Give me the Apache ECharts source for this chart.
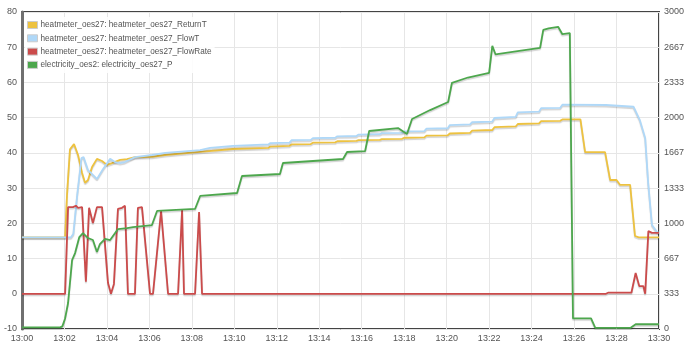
<!DOCTYPE html>
<html>
<head>
<meta charset="utf-8">
<script src="https://cdn.jsdelivr.net/npm/echarts@6/dist/echarts.min.js"></script>
<style>
  html, body { margin: 0; padding: 0; background: #fff; }
  #chart { width: 690px; height: 352px; }
</style>
</head>
<body>
<div id="chart"></div>
<script>
// time in minutes after 13:00
let seriesNames = [
    'heatmeter_oes27: heatmeter_oes27_ReturnT',
    'heatmeter_oes27: heatmeter_oes27_FlowT',
    'heatmeter_oes27: heatmeter_oes27_FlowRate',
    'electricity_oes2: electricity_oes27_P'
];
let seriesColors = ['#edc240', '#afd8f8', '#cb4b4b', '#4da74d'];

let returnT = [[0,16],[2.03,16],[2.12,28],[2.26,41],[2.45,42.5],[2.64,39.4],[2.83,34.3],[2.97,31.5],[3.11,32.3],[3.3,36],[3.53,38.3],[3.77,37.7],[4.0,36.6],[4.24,37.1],[4.62,38],[4.95,38.2],[5.32,38.8],[6.12,38.9],[6.74,39.4],[8.39,40.3],[9.94,41.1],[11.6,41.4],[11.7,41.8],[12.6,42],[12.7,42.4],[13.6,42.5],[13.7,42.9],[14.75,43],[14.85,43.3],[15.75,43.4],[15.85,43.6],[16.85,43.7],[16.95,43.9],[17.9,44],[18.0,44.3],[18.95,44.4],[19.05,44.9],[20.05,45],[20.15,45.5],[21.1,45.7],[21.2,46.3],[22.15,46.5],[22.25,47.3],[23.25,47.5],[23.35,48.2],[24.35,48.4],[24.45,49],[25.35,49.1],[25.45,49.5],[26.3,49.5],[26.52,40.2],[27.46,40.2],[27.7,32.3],[28.0,32.3],[28.17,30.9],[28.64,30.9],[28.87,16.4],[29.05,16],[30,16]];

let flowT = [[0,16],[2.3,16],[2.42,17],[2.6,28],[2.8,38.5],[2.9,38.8],[3.11,35.1],[3.53,32.6],[3.82,35.4],[4.15,38.3],[4.38,37.4],[4.62,37.1],[4.85,37.4],[5.32,38.8],[6.12,39.4],[6.74,40],[8.39,40.8],[8.85,41.4],[9.94,42],[11.6,42.4],[11.7,42.8],[12.6,42.9],[12.7,43.6],[13.6,43.7],[13.7,44.2],[14.75,44.3],[14.85,44.7],[15.75,44.8],[15.85,45.2],[16.85,45.3],[16.95,45.6],[17.9,45.7],[18.0,46.1],[18.95,46.2],[19.05,46.9],[20.05,47],[20.15,47.9],[21.1,48.1],[21.2,48.7],[22.15,48.9],[22.25,49.9],[23.25,50.2],[23.35,51.5],[24.35,51.7],[24.45,52.7],[25.35,52.8],[25.45,53.7],[27.5,53.6],[28.8,53.1],[29.1,49.3],[29.35,44.2],[29.49,31.5],[29.67,19.5],[29.91,17.5],[30,17.3]];

let flowRate = [[0,0],[2.03,0],[2.17,24.6],[2.4,24.6],[2.54,25],[2.64,24.4],[2.83,24.6],[2.87,24.4],[3.01,3.4],[3.16,24.4],[3.34,20.1],[3.53,24.6],[3.77,24.6],[3.86,24.1],[4.05,3.1],[4.19,0],[4.33,2.8],[4.52,24.1],[4.71,24.4],[4.85,25],[4.99,0],[5.32,0],[5.46,24.4],[5.65,24.6],[6.03,0],[6.17,0],[6.55,23.5],[6.88,0],[7.35,0],[7.54,23.8],[7.63,0],[8.15,0],[8.34,23.2],[8.48,0],[27.5,0],[27.6,0.3],[28.7,0.3],[28.9,5.9],[29.07,2.2],[29.26,2.2],[29.35,0],[29.5,17.8],[29.67,17.3],[30,17.3]];

let powerP = [[0,15],[1.8,15],[1.9,25],[2.03,100],[2.17,246],[2.36,653],[2.5,719],[2.7,870],[2.87,908],[3.11,861],[3.34,842],[3.53,729],[3.67,804],[3.91,852],[4.15,842],[4.52,946],[4.95,955],[5.23,965],[6.12,984],[6.36,1117],[8.15,1136],[8.39,1259],[10.13,1287],[10.36,1448],[12.15,1467],[12.29,1571],[15.12,1609],[15.31,1675],[16.16,1684],[16.35,1874],[17.71,1902],[17.99,1864],[18.13,1845],[18.37,1987],[19.22,2072],[20.07,2148],[20.25,2330],[21.0,2380],[22.0,2425],[22.15,2680],[22.3,2600],[23.5,2635],[24.4,2660],[24.55,2830],[24.8,2845],[25.25,2860],[25.45,2790],[25.8,2800],[25.95,100],[26.8,100],[27.0,10],[28.65,10],[28.9,45],[30,45]];

let xTicks = {min: 0, max: 30, step: 2};
let leftTicks = {min: -10, max: 80, step: 10};
let rightTicks = {min: 0, max: 3000, step: 3000 / 9};

let fontFam = '"Liberation Sans", Arial, sans-serif';
let labelColor = '#545454';

let pad = function(n){ return (n < 10 ? '0' : '') + n; };

let mkLine = function(idx, data, yIdx){
    return {
        name: seriesNames[idx],
        type: 'line',
        yAxisIndex: yIdx,
        data: data,
        showSymbol: false,
        symbol: 'none',
        animation: false,
        color: seriesColors[idx],
        lineStyle: {
            width: 1.8,
            color: seriesColors[idx],
            shadowColor: 'rgba(0,0,0,0.18)',
            shadowBlur: 1,
            shadowOffsetY: 1.5
        },
        z: 2 + idx
    };
};

let myChart = echarts.init(document.getElementById('chart'), null, {renderer: 'canvas'});
let option = {
    animation: false,
    backgroundColor: '#fff',
    textStyle: {fontFamily: fontFam},
    grid: {
        left: 22, right: 31, top: 12, bottom: 23,
        show: true,
        borderColor: '#444',
        borderWidth: 2,
        backgroundColor: 'transparent'
    },
    legend: {
        orient: 'vertical',
        left: 25, top: 17,
        padding: [2, 3, 2, 2],
        itemWidth: 10,
        itemHeight: 7,
        itemGap: 1.3,
        icon: 'rect',
        backgroundColor: 'rgba(255,255,255,0.85)',
        textStyle: {fontSize: 8.2, color: labelColor, fontFamily: fontFam, lineHeight: 12, padding: [0, 0, 0, -2]},
        itemStyle: {borderColor: '#ccc', borderWidth: 1},
        data: seriesNames
    },
    xAxis: {
        type: 'value',
        min: xTicks.min, max: xTicks.max, interval: xTicks.step,
        axisLine: {show: false},
        axisTick: {show: false},
        splitLine: {show: true, lineStyle: {color: '#e6e6e6', width: 1}},
        axisLabel: {
            color: labelColor, fontSize: 9, fontFamily: fontFam, margin: 5,
            formatter: function(v){ return '13:' + pad(Math.round(v)); }
        }
    },
    yAxis: [{
        type: 'value',
        min: leftTicks.min, max: leftTicks.max, interval: leftTicks.step,
        axisLine: {show: true, lineStyle: {color: '#707070', width: 3}},
        axisTick: {show: false},
        splitLine: {show: true, lineStyle: {color: '#e6e6e6', width: 1}},
        axisLabel: {color: labelColor, fontSize: 9, fontFamily: fontFam, margin: 5}
    }, {
        type: 'value',
        position: 'right',
        min: rightTicks.min, max: rightTicks.max, interval: rightTicks.step,
        axisLine: {show: false},
        axisTick: {show: false},
        splitLine: {show: false},
        axisLabel: {
            color: labelColor, fontSize: 9, fontFamily: fontFam, margin: 5,
            formatter: function(v){ return String(Math.round(v)); }
        }
    }],
    series: [
        mkLine(0, returnT, 0),
        mkLine(1, flowT, 0),
        mkLine(2, flowRate, 0),
        mkLine(3, powerP, 1)
    ]
};
myChart.setOption(option);
</script>
</body>
</html>
